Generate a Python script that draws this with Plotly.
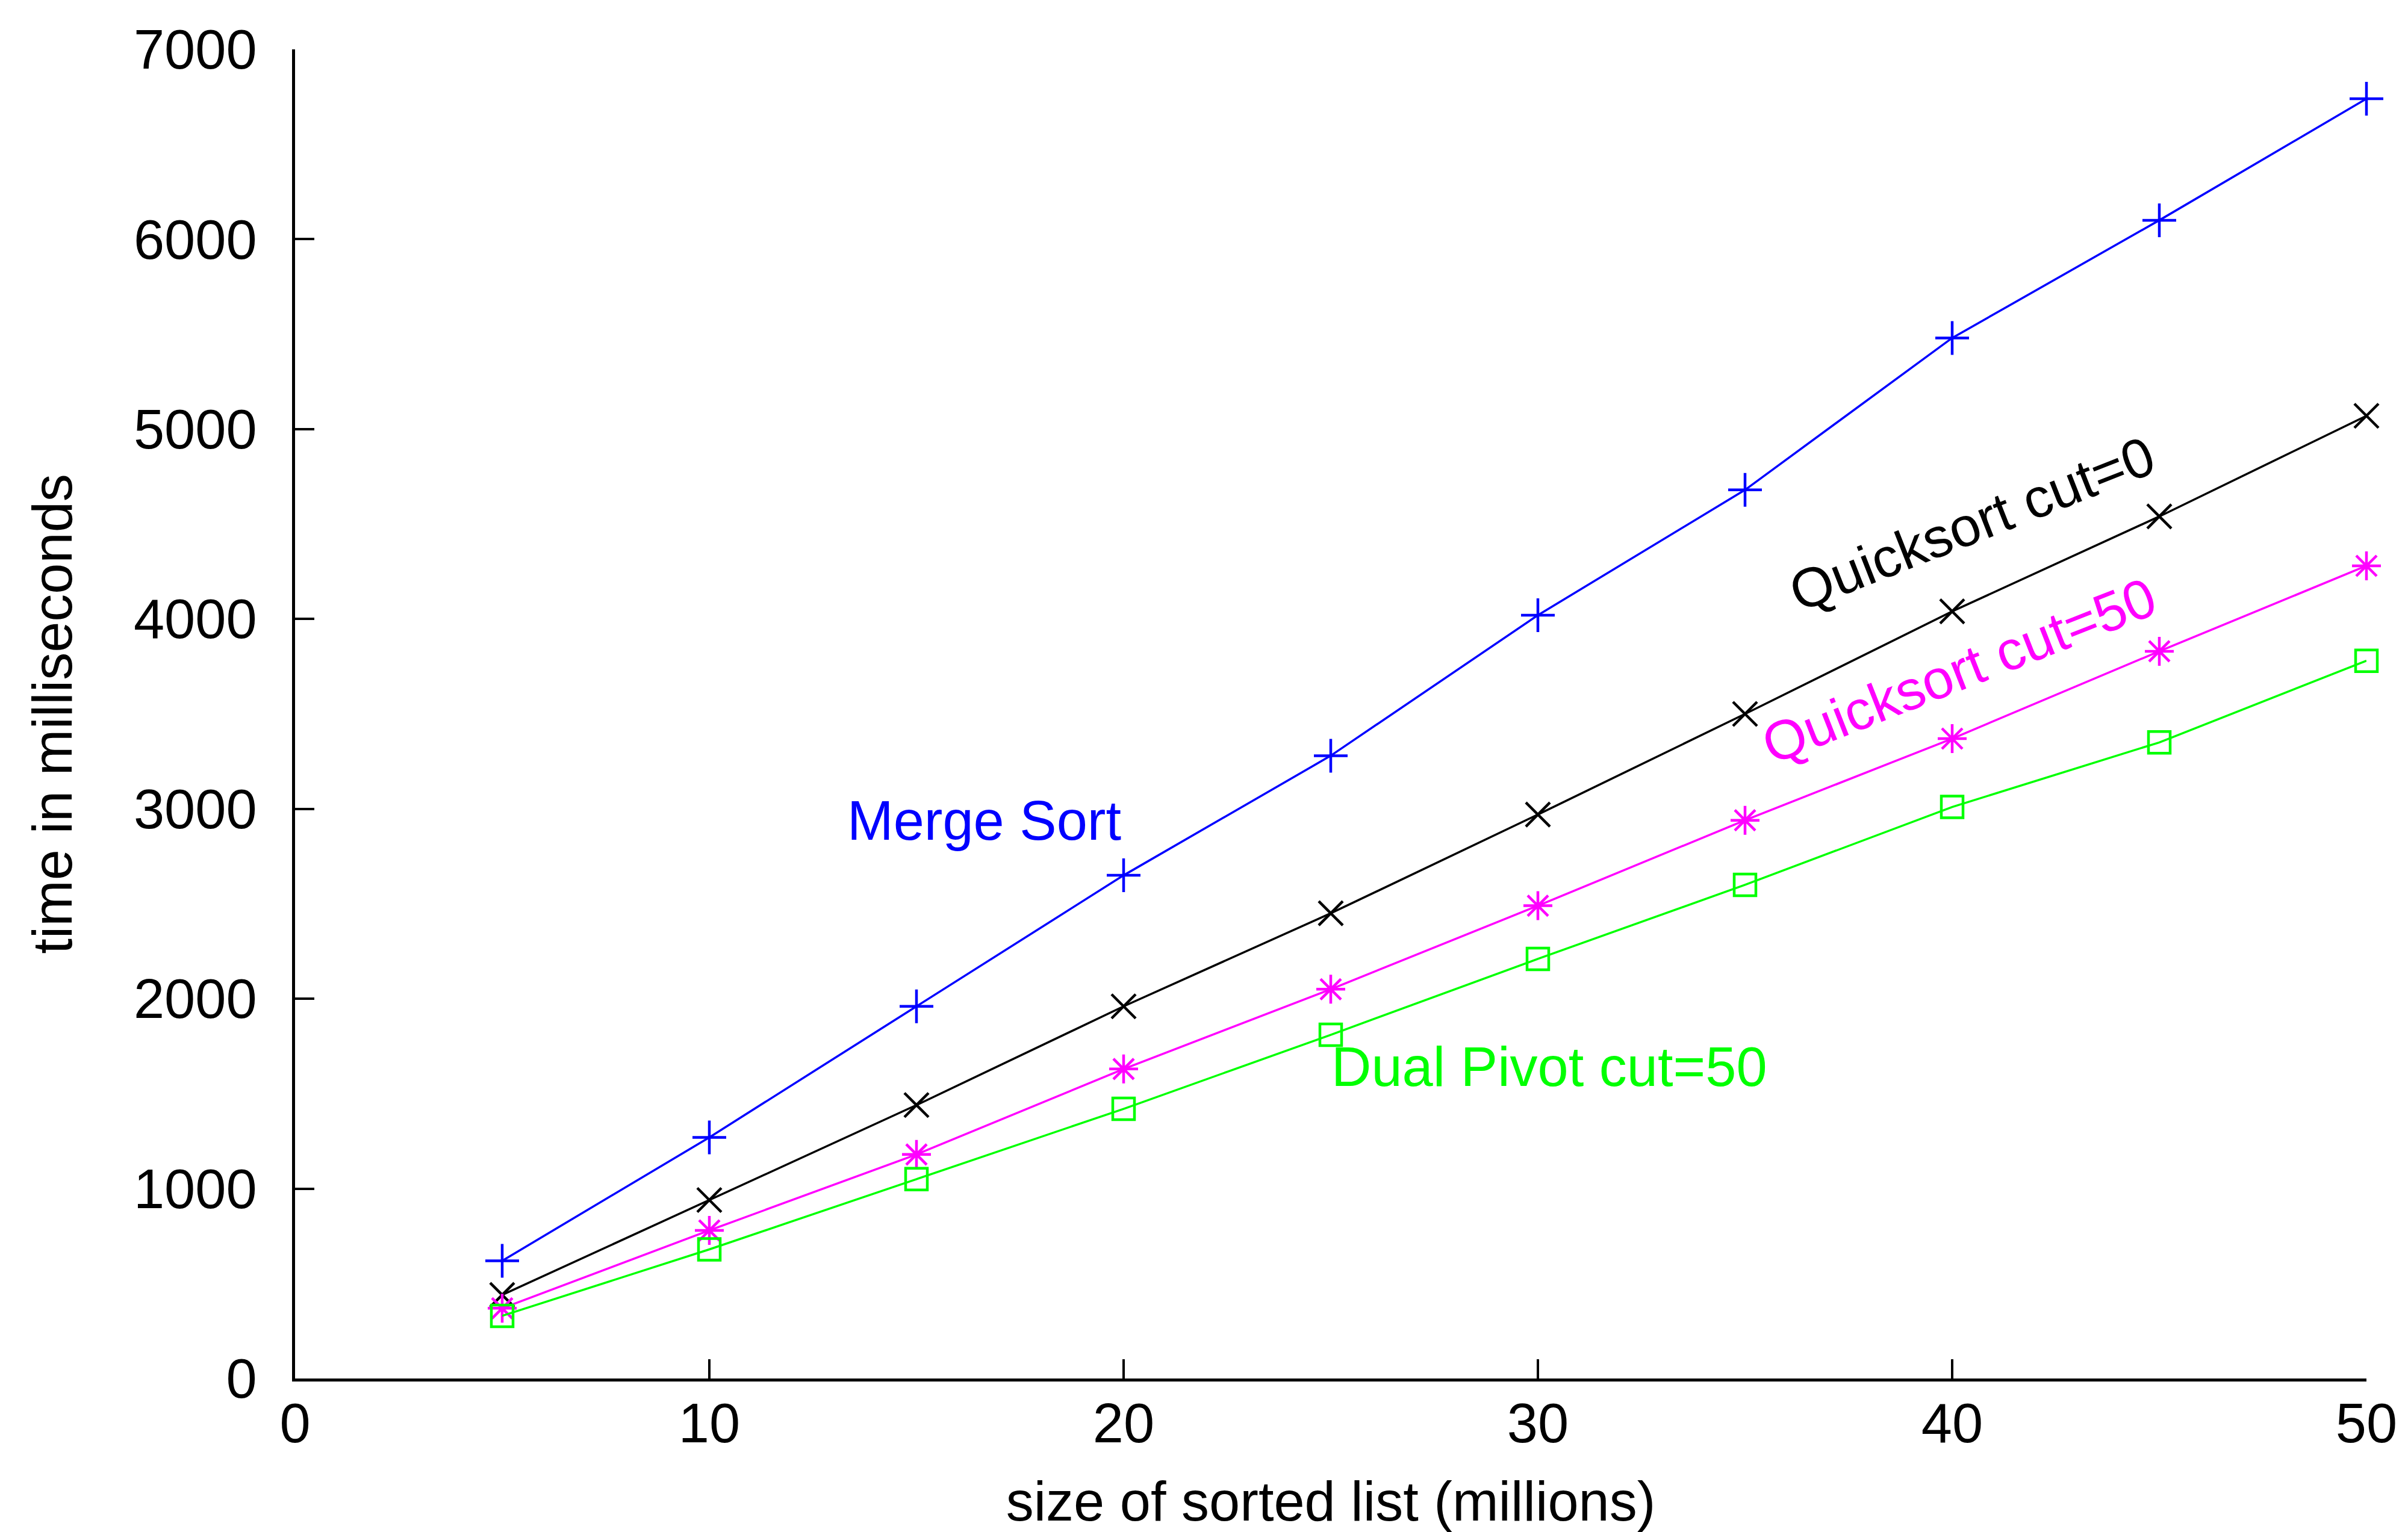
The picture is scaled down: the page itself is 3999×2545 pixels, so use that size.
import plotly.graph_objects as go

sizes = [5, 10, 15, 20, 25, 30, 35, 40, 45, 50]
merge_sort = [620, 1270, 1960, 2650, 3280, 4020, 4680, 5480, 6100, 6740]
quick_cut0 = [440, 940, 1440, 1960, 2450, 2970, 3500, 4040, 4540, 5070]
quick_cut50 = [370, 780, 1180, 1630, 2050, 2490, 2940, 3370, 3830, 4280]
dual_cut50 = [330, 680, 1050, 1420, 1810, 2210, 2600, 3010, 3350, 3780]

series_names = ["Merge Sort", "Quicksort cut=0", "Quicksort cut=50", "Dual Pivot cut=50"]
series_values = [merge_sort, quick_cut0, quick_cut50, dual_cut50]
colors = ["#0000ff", "#000000", "#ff00ff", "#00ff00"]
symbols = ["cross-thin", "x-thin", "asterisk-open", "square-open"]
msizes = [40, 40, 40, 36]

FONT = "Liberation Sans, Arial, Helvetica, sans-serif"

fig = go.Figure()
for name, vals, c, s, ms in zip(series_names, series_values, colors, symbols, msizes):
    fig.add_trace(go.Scatter(
        x=sizes, y=vals, name=name, mode="lines+markers",
        line=dict(color=c, width=3.5),
        marker=dict(symbol=s, size=ms, color=c, line=dict(color=c, width=4.5)),
        showlegend=False, cliponaxis=False,
    ))

# labels placed beside lines (label positions)
label_pos = [(16.63, 2938, 0), (40.48, 4501, -21.5), (40.17, 3727, -21.5), (30.28, 1642, 0)]
for name, c, (lx, ly, ang) in zip(series_names, colors, label_pos):
    fig.add_annotation(x=lx, y=ly, xref="x", yref="y", text=name, showarrow=False,
                       textangle=ang, xanchor="center", yanchor="middle",
                       font=dict(family=FONT, size=92, color=c))

fig.update_layout(
    width=3999, height=2545,
    margin=dict(l=490, r=69, t=82, b=255),
    paper_bgcolor="white", plot_bgcolor="white",
    font=dict(family=FONT, size=92, color="#000000"),
)
fig.update_xaxes(
    range=[0, 50], dtick=10, tick0=0, showgrid=False, zeroline=False,
    showline=True, linecolor="black", linewidth=5,
    ticks="inside", ticklen=32, tickwidth=4, tickcolor="black",
    ticklabelstandoff=-9,
    title=dict(text="size of sorted list (millions)", font=dict(size=92), standoff=52),
    automargin=False,
)
fig.update_yaxes(
    range=[0, 7000], dtick=1000, tick0=0, showgrid=False, zeroline=False,
    showline=True, linecolor="black", linewidth=5,
    ticks="inside", ticklen=32, tickwidth=4, tickcolor="black",
    ticklabelstandoff=40,
    title=dict(text="time in milliseconds", font=dict(size=92), standoff=73),
    automargin=False,
)

fig.write_html("out.html")
